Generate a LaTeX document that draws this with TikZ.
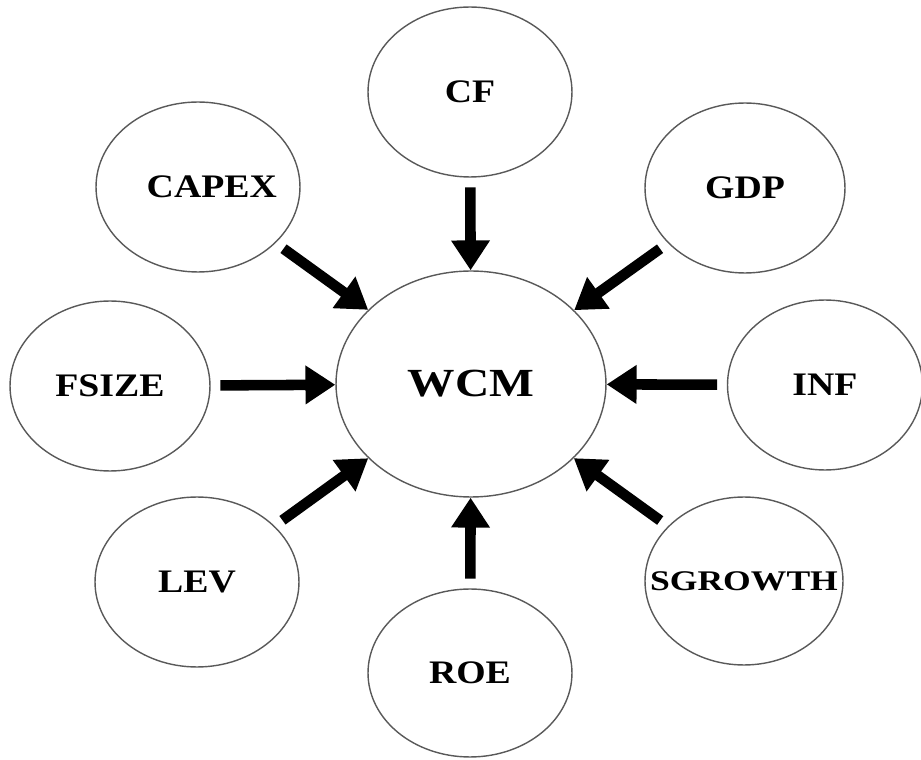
\documentclass[tikz,border=0pt]{standalone}
\usepackage{fontspec,graphicx}
\setmainfont{Liberation Serif}
\usetikzlibrary{shapes.geometric,arrows.meta}
\newcommand{\widelbl}[2][1.15]{\makebox[0pt]{\scalebox{#1}[1]{#2}}}
\begin{document}
\begin{tikzpicture}[x=0.02cm, y=-0.02cm,
    factor/.style={ellipse, draw=black!65, line width=0.8pt, inner sep=0pt,
      minimum width=4.08cm, minimum height=3.4cm,
      font=\fontsize{18.7}{20}\selectfont\bfseries},
    arr/.style={line width=6pt, -{Triangle[width=21pt,length=17pt]},
      shorten <=5.5pt}]
        \useasboundingbox (0,0) rectangle (921,760);
        % center
        \node[factor, minimum width=5.4cm, minimum height=4.52cm,
          font=\fontsize{22.7}{24}\selectfont\bfseries] (wcm) at (471,384)
          {\widelbl[1.19]{WCM}};
        % factors
        \node[factor] (cf) at (470,92) {\widelbl{CF}};
        \node[factor] (capex) at (198,187) {\widelbl{\hspace*{0.48cm}CAPEX}};
        \node[factor, minimum width=4cm] (gdp) at (745,188) {\widelbl{GDP}};
        \node[factor, minimum width=4cm] (fsize) at (110,386) {\widelbl{FSIZE}};
        \node[factor, minimum width=3.9cm] (inf) at (825,385) {\widelbl{INF}};
        \node[factor] (lev) at (197,582) {\widelbl{LEV}};
        \node[factor, minimum height=3.36cm] (roe) at (470,673) {\widelbl{ROE}};
        \node[factor, minimum width=3.96cm, minimum height=3.36cm,
          font=\fontsize{16.2}{18}\selectfont\bfseries] (sgrowth) at (744,581)
          {\widelbl[1.25]{SGROWTH}};
        % arrows into WCM
        \foreach \n in {cf,capex,gdp,fsize,inf,lev,roe,sgrowth}
          \draw[arr] (\n) -- (wcm);
      \end{tikzpicture}
\end{document}
